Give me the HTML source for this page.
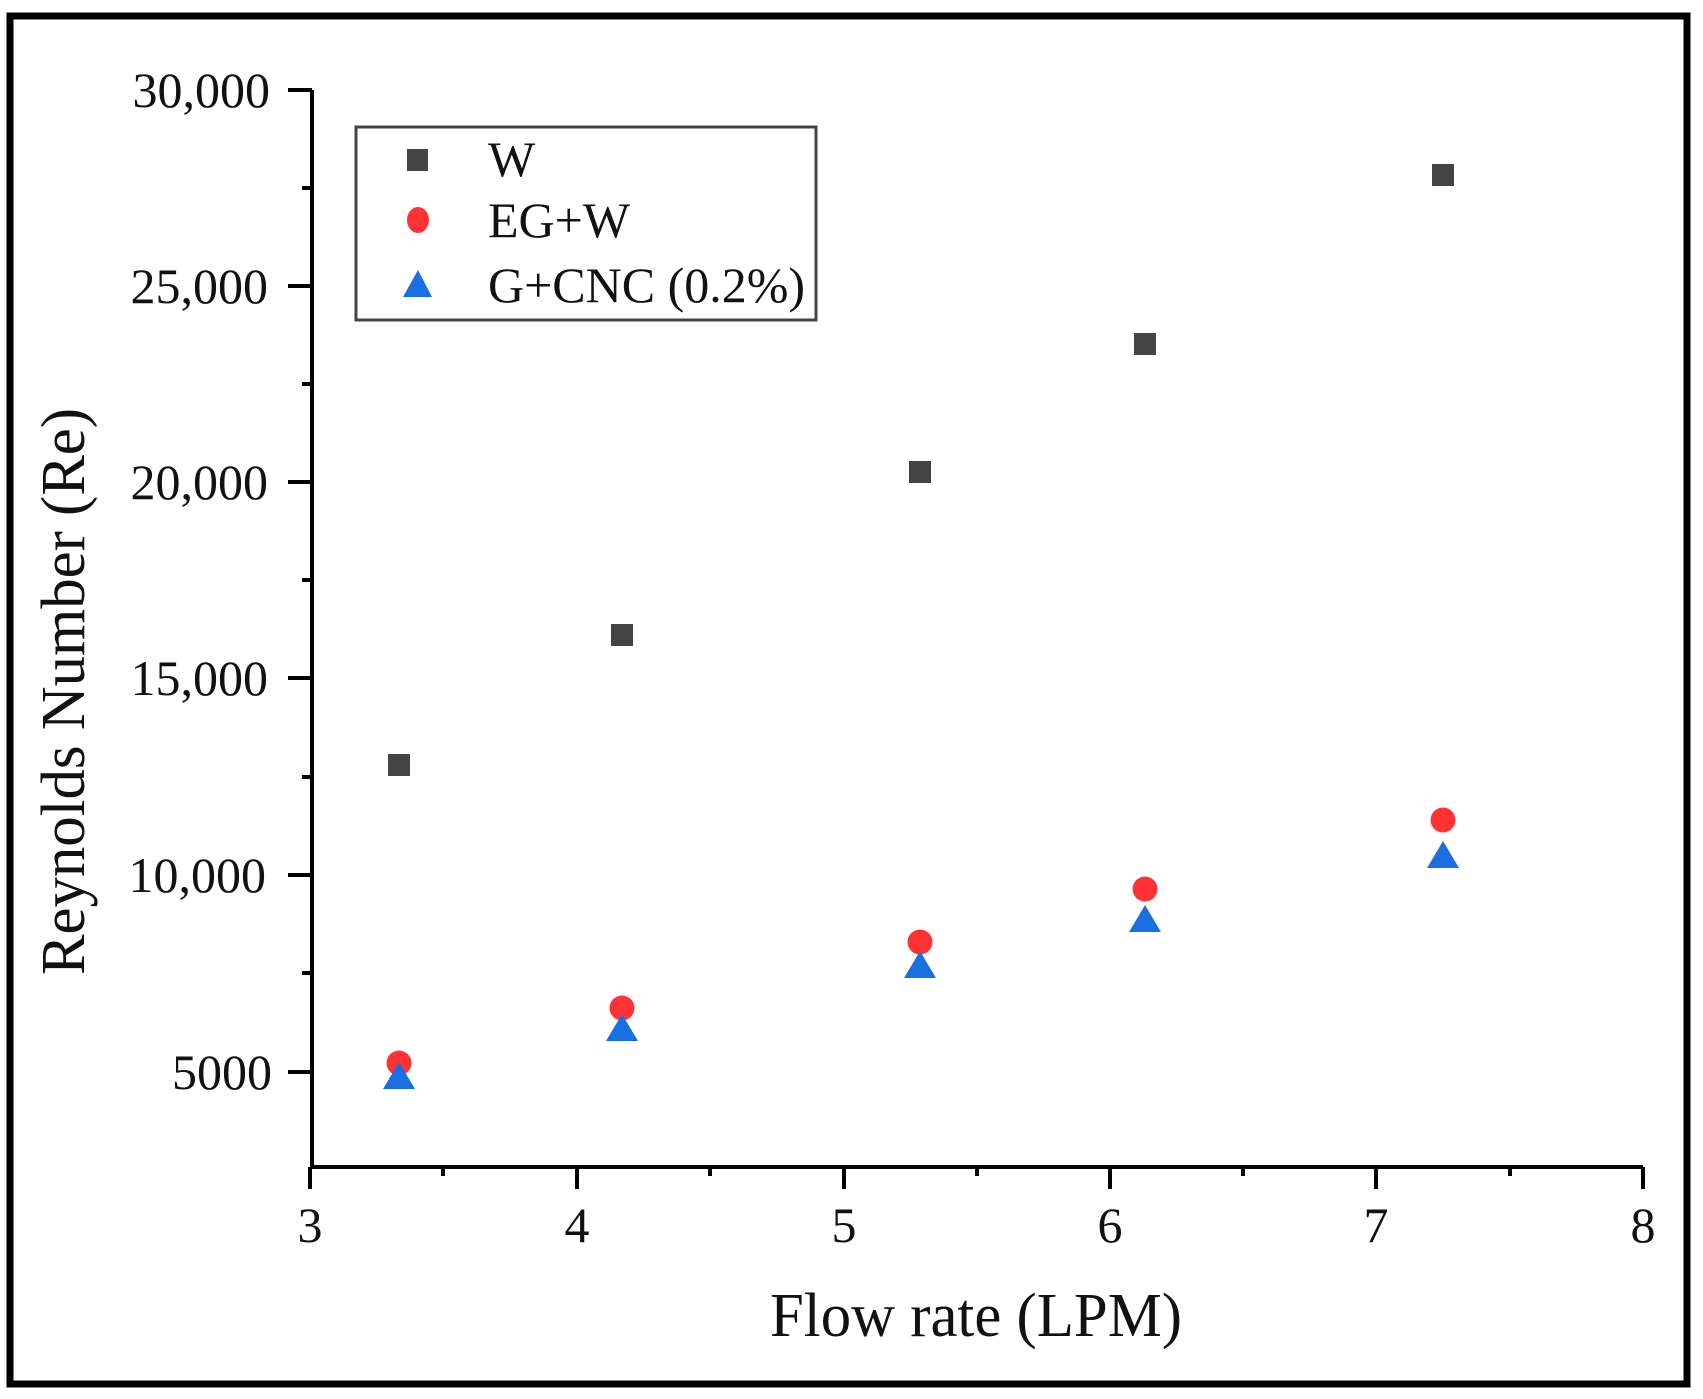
<!DOCTYPE html>
<html><head><meta charset="utf-8"><style>html,body{margin:0;padding:0;background:#fff}svg{display:block}</style></head>
<body>
<svg width="1703" height="1399" viewBox="0 0 1703 1399" xmlns="http://www.w3.org/2000/svg" font-family="'Liberation Serif', serif">
<rect x="0" y="0" width="1703" height="1399" fill="#fff"/>
<rect x="10" y="16" width="1677" height="1368" fill="none" stroke="#000" stroke-width="7"/>
<g stroke="#000" stroke-width="4" fill="none">
<path d="M312 90 V1167 H1643"/>
<path d="M288 90 H312 M288 286 H312 M288 482 H312 M288 678 H312 M288 875 H312 M288 1072 H312"/>
<path d="M302 188 H312 M302 384 H312 M302 580 H312 M302 777 H312 M302 973 H312"/>
<path d="M310 1167 V1189 M577 1167 V1189 M844 1167 V1189 M1110 1167 V1189 M1376 1167 V1189 M1643 1167 V1189"/>
<path d="M443 1167 V1176 M710 1167 V1176 M977 1167 V1176 M1243 1167 V1176 M1510 1167 V1176"/>
</g>
<g font-size="50" fill="#111" text-anchor="end">
<text x="270" y="107">30,000</text>
<text x="268" y="303">25,000</text>
<text x="268" y="499">20,000</text>
<text x="268" y="695">15,000</text>
<text x="266" y="892">10,000</text>
<text x="272" y="1089">5000</text>
</g>
<g font-size="50" fill="#111" text-anchor="middle">
<text x="310" y="1242">3</text>
<text x="577" y="1242">4</text>
<text x="844" y="1242">5</text>
<text x="1110" y="1242">6</text>
<text x="1376" y="1242">7</text>
<text x="1643" y="1242">8</text>
</g>
<text x="770" y="1336" font-size="62" textLength="412" lengthAdjust="spacingAndGlyphs" fill="#111">Flow rate (LPM)</text>
<text transform="translate(84,975) rotate(-90)" font-size="62" textLength="567" lengthAdjust="spacingAndGlyphs" fill="#111">Reynolds Number (Re)</text>
<rect x="356" y="127" width="460" height="193" fill="#fff" stroke="#444" stroke-width="3"/>
<rect x="407" y="149" width="21" height="22" fill="#444"/>
<ellipse cx="418" cy="220" rx="11" ry="13" fill="#ff3333"/>
<polygon points="403,297 432,297 418,270" fill="#1a6fe0"/>
<g font-size="50" fill="#111">
<text x="488" y="176">W</text>
<text x="488" y="237">EG+W</text>
<text x="488" y="302">G+CNC (0.2%)</text>
</g>
<g fill="#444">
<rect x="388" y="754" width="22" height="22"/>
<rect x="611" y="624" width="22" height="22"/>
<rect x="909" y="461" width="22" height="22"/>
<rect x="1134" y="333" width="22" height="22"/>
<rect x="1432" y="164" width="22" height="22"/>
</g>
<g fill="#ff3333">
<circle cx="399" cy="1063" r="12.5"/>
<circle cx="622" cy="1008" r="12.5"/>
<circle cx="920" cy="942" r="12.5"/>
<circle cx="1145" cy="889" r="12.5"/>
<circle cx="1443" cy="820" r="12.5"/>
</g>
<g fill="#1a6fe0">
<polygon points="383,1089 415,1089 399,1062"/>
<polygon points="606,1041 638,1041 622,1014"/>
<polygon points="904,978 936,978 920,951"/>
<polygon points="1129,932 1161,932 1145,905"/>
<polygon points="1427,868 1459,868 1443,841"/>
</g>
</svg>
</body></html>
